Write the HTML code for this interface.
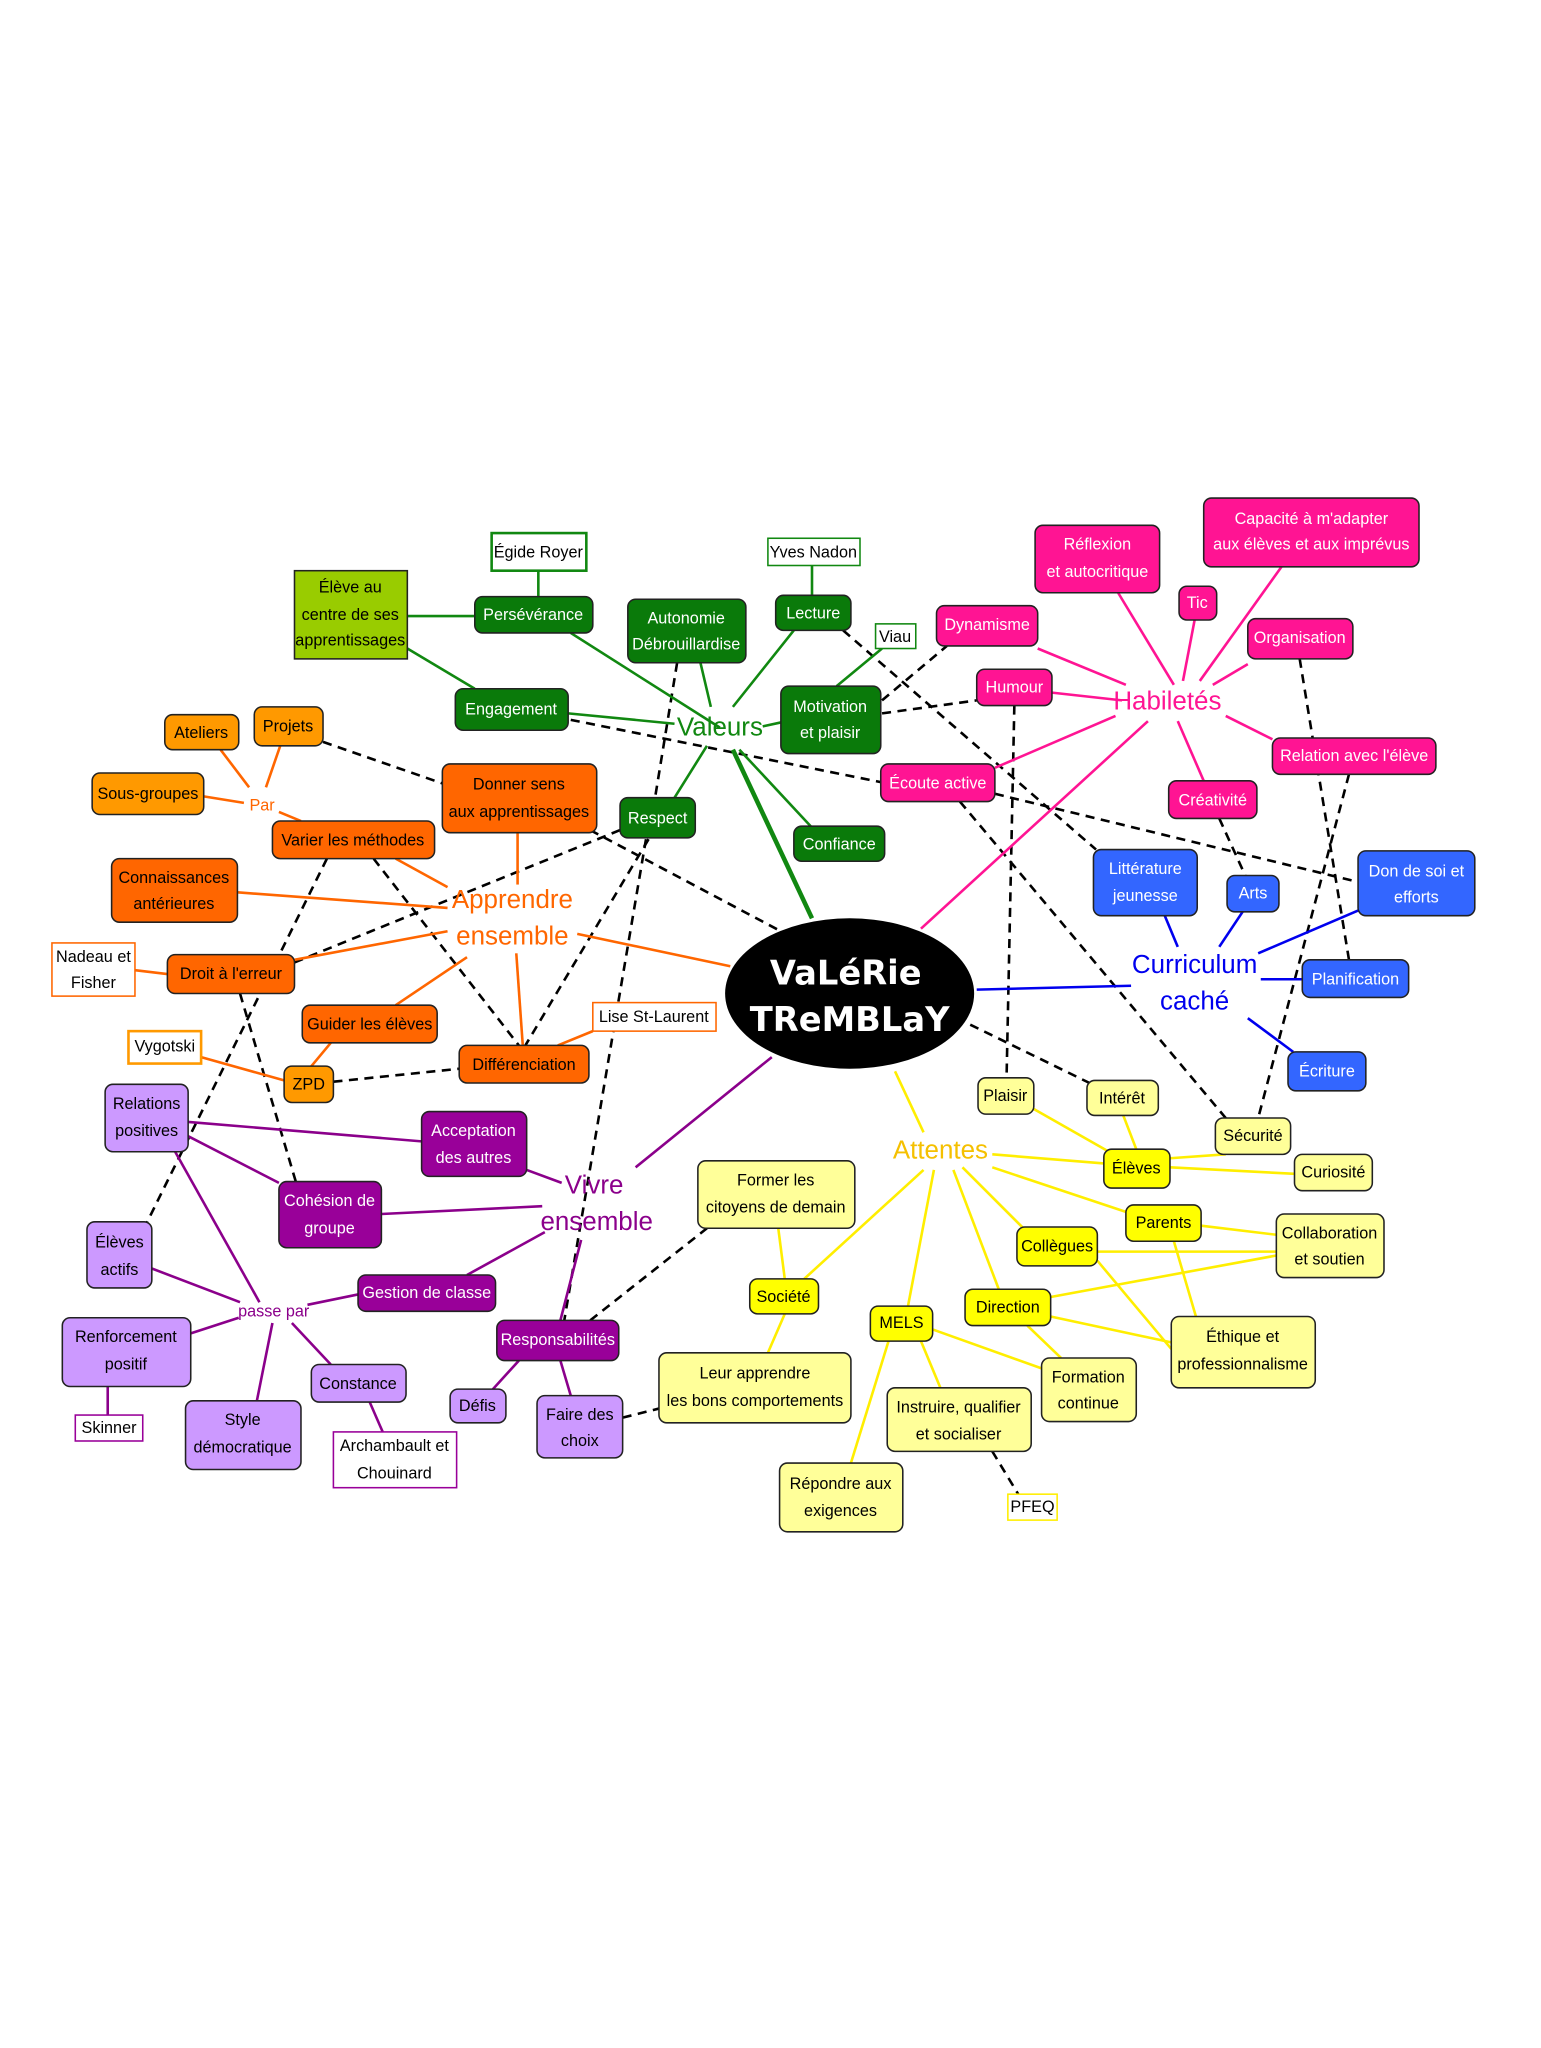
<!DOCTYPE html>
<html><head><meta charset="utf-8"><style>
html,body{margin:0;padding:0;background:#fff;}
svg{display:block}
text{font-family:"Liberation Sans Narrow","Liberation Sans",sans-serif;font-size:12.5px;text-anchor:middle;dominant-baseline:central}
.l{font-size:20px}
.d{stroke:#000;stroke-width:2;stroke-dasharray:7,5;fill:none}
rect{stroke:#222;stroke-width:1.2}
</style></head><body>
<svg width="1541" height="2048" viewBox="0 0 1188 1579" xmlns="http://www.w3.org/2000/svg">
<rect x="0" y="0" width="1188" height="1579" fill="#fff" style="stroke:none"/>
<g class="d">
<line x1="650" y1="486" x2="845" y2="655"/>
<line x1="522" y1="511" x2="505" y2="615"/>
<line x1="478" y1="640" x2="227" y2="742"/>
<line x1="500" y1="647" x2="405" y2="806"/>
<line x1="498" y1="647" x2="435" y2="1018"/>
<line x1="680" y1="540" x2="730" y2="498"/>
<line x1="680" y1="550" x2="753" y2="540"/>
<line x1="440" y1="555" x2="679" y2="603"/>
<line x1="249" y1="572" x2="341" y2="604"/>
<line x1="455" y1="640" x2="602" y2="718"/>
<line x1="288" y1="662" x2="400" y2="806"/>
<line x1="252" y1="662" x2="112" y2="945"/>
<line x1="185" y1="766" x2="228" y2="911"/>
<line x1="257" y1="834" x2="354" y2="824"/>
<line x1="455" y1="1018" x2="545" y2="947"/>
<line x1="480" y1="1093" x2="508" y2="1086"/>
<line x1="740" y1="618" x2="945" y2="862"/>
<line x1="767" y1="612" x2="1047" y2="680"/>
<line x1="782" y1="544" x2="776" y2="831"/>
<line x1="748" y1="790" x2="840" y2="835"/>
<line x1="1002" y1="508" x2="1040" y2="740"/>
<line x1="1040" y1="597" x2="970" y2="862"/>
<line x1="765" y1="1119" x2="785" y2="1152"/>
<line x1="940" y1="631" x2="960" y2="675"/>
</g>
<g stroke="#118811" stroke-width="2" fill="none">
<line x1="555" y1="561" x2="440" y2="488"/><line x1="520" y1="558" x2="438" y2="550"/>
<line x1="548" y1="545" x2="540" y2="511"/><line x1="565" y1="545" x2="612" y2="486"/>
<line x1="588" y1="560" x2="602" y2="557"/><line x1="545" y1="575" x2="520" y2="615"/>
<line x1="570" y1="578" x2="625" y2="637"/><line x1="565" y1="578" x2="626" y2="708" stroke-width="3.5"/>
<line x1="314" y1="475" x2="366" y2="475"/><line x1="314" y1="500" x2="366" y2="531"/>
<line x1="415" y1="460" x2="415" y2="440"/><line x1="626" y1="459" x2="626" y2="436"/>
<line x1="645" y1="529" x2="680" y2="500"/>
</g>
<g stroke="#ff6600" stroke-width="2" fill="none">
<line x1="345" y1="684" x2="305" y2="662"/><line x1="399" y1="682" x2="399" y2="642"/>
<line x1="345" y1="700" x2="183" y2="688"/><line x1="345" y1="718" x2="227" y2="740"/>
<line x1="360" y1="738" x2="305" y2="775"/><line x1="398" y1="735" x2="403" y2="806"/>
<line x1="445" y1="720" x2="563" y2="745"/>
<line x1="192" y1="607" x2="170" y2="578"/><line x1="205" y1="607" x2="216" y2="575"/>
<line x1="188" y1="619" x2="157" y2="614"/><line x1="215" y1="626" x2="232" y2="633"/>
<line x1="104" y1="748" x2="129" y2="751"/><line x1="155" y1="815" x2="219" y2="833"/>
<line x1="255" y1="804" x2="240" y2="822"/><line x1="457" y1="795" x2="430" y2="806"/>
</g>
<g stroke="#ff1493" stroke-width="2" fill="none">
<line x1="868" y1="528" x2="800" y2="500"/><line x1="865" y1="540" x2="811" y2="534"/>
<line x1="860" y1="552" x2="767" y2="592"/><line x1="905" y1="528" x2="862" y2="457"/>
<line x1="912" y1="525" x2="921" y2="478"/><line x1="925" y1="525" x2="988" y2="437"/>
<line x1="935" y1="528" x2="962" y2="512"/><line x1="945" y1="552" x2="981" y2="570"/>
<line x1="908" y1="556" x2="928" y2="602"/><line x1="885" y1="556" x2="710" y2="716"/>
</g>
<g stroke="#0000ee" stroke-width="2" fill="none">
<line x1="908" y1="730" x2="898" y2="706"/><line x1="940" y1="730" x2="958" y2="703"/>
<line x1="970" y1="735" x2="1047" y2="702"/><line x1="972" y1="755" x2="1004" y2="755"/>
<line x1="962" y1="785" x2="997" y2="811"/><line x1="872" y1="760" x2="753" y2="763"/>
</g>
<g stroke="#8b008b" stroke-width="2" fill="none">
<line x1="433" y1="912" x2="406" y2="902"/><line x1="418" y1="930" x2="294" y2="936"/>
<line x1="420" y1="950" x2="360" y2="983"/><line x1="448" y1="956" x2="432" y2="1018"/>
<line x1="490" y1="900" x2="595" y2="815"/>
<line x1="145" y1="865" x2="325" y2="880"/><line x1="145" y1="876" x2="215" y2="912"/>
<line x1="135" y1="888" x2="200" y2="1004"/><line x1="185" y1="1004" x2="117" y2="978"/>
<line x1="237" y1="1006" x2="276" y2="998"/><line x1="184" y1="1016" x2="147" y2="1028"/>
<line x1="210" y1="1020" x2="198" y2="1080"/><line x1="225" y1="1020" x2="255" y2="1052"/>
<line x1="83" y1="1069" x2="83" y2="1091"/><line x1="285" y1="1081" x2="295" y2="1104"/>
<line x1="400" y1="1049" x2="380" y2="1071"/><line x1="432" y1="1049" x2="440" y2="1076"/>
</g>
<g stroke="#ffee00" stroke-width="2" fill="none">
<line x1="712" y1="873" x2="690" y2="826"/><line x1="712" y1="902" x2="620" y2="986"/>
<line x1="720" y1="902" x2="700" y2="1007"/><line x1="735" y1="902" x2="770" y2="994"/>
<line x1="742" y1="900" x2="790" y2="948"/><line x1="765" y1="890" x2="851" y2="897"/>
<line x1="765" y1="900" x2="870" y2="935"/>
<line x1="866" y1="860" x2="876" y2="886"/><line x1="797" y1="855" x2="855" y2="888"/>
<line x1="902" y1="893" x2="945" y2="890"/><line x1="902" y1="900" x2="998" y2="905"/>
<line x1="926" y1="945" x2="984" y2="952"/><line x1="905" y1="957" x2="922" y2="1015"/>
<line x1="846" y1="965" x2="984" y2="965"/><line x1="846" y1="972" x2="903" y2="1040"/>
<line x1="810" y1="1000" x2="984" y2="968"/><line x1="810" y1="1015" x2="903" y2="1035"/>
<line x1="792" y1="1022" x2="818" y2="1047"/><line x1="719" y1="1025" x2="803" y2="1055"/>
<line x1="710" y1="1034" x2="725" y2="1070"/><line x1="685" y1="1034" x2="656" y2="1128"/>
<line x1="605" y1="986" x2="600" y2="947"/><line x1="605" y1="1013" x2="592" y2="1043"/>
</g>
<ellipse cx="655" cy="766" rx="96" ry="58" fill="#000"/>
<text x="652" y="750" style="font-size:26px;font-weight:bold;font-family:'DejaVu Sans','Liberation Sans',sans-serif" fill="#fff">VaLéRie</text>
<text x="655" y="786" style="font-size:26px;font-weight:bold;font-family:'DejaVu Sans','Liberation Sans',sans-serif" fill="#fff">TReMBLaY</text>
<text class="l" x="555" y="561" fill="#118811">Valeurs</text>
<text class="l" x="395" y="694" fill="#ff6600">Apprendre</text><text class="l" x="395" y="722" fill="#ff6600">ensemble</text>
<text class="l" x="900" y="541" fill="#ff1493">Habiletés</text>
<text class="l" x="921" y="744" fill="#0000ee">Curriculum</text><text class="l" x="921" y="772" fill="#0000ee">caché</text>
<text class="l" x="458" y="914" fill="#8b008b">Vivre</text><text class="l" x="460" y="942" fill="#8b008b">ensemble</text>
<text class="l" x="725" y="887" fill="#f5c000">Attentes</text>
<text x="202" y="621" fill="#ff6600">Par</text>
<text x="211" y="1011" fill="#8b008b">passe par</text>
<g fill="#0a7a0a">
<rect x="366" y="460" width="91" height="28" rx="6"/><rect x="351" y="531" width="87" height="32" rx="6"/>
<rect x="484" y="462" width="91" height="49" rx="6"/><rect x="598" y="459" width="58" height="27" rx="6"/>
<rect x="602" y="529" width="77" height="52" rx="6"/><rect x="478" y="615" width="58" height="31" rx="6"/>
<rect x="612" y="637" width="70" height="27" rx="6"/>
</g>
<rect x="227" y="440" width="87" height="68" fill="#99cc00"/>
<g fill="#fff"><rect x="379" y="411" width="73" height="29" style="stroke:#118811;stroke-width:2"/><rect x="592" y="415" width="71" height="21" style="stroke:#118811"/><rect x="675" y="481" width="31" height="19" style="stroke:#118811"/></g>
<g fill="#fff">
<text x="411" y="474">Persévérance</text><text x="394" y="547">Engagement</text>
<text x="529" y="477">Autonomie</text><text x="529" y="497">Débrouillardise</text>
<text x="627" y="473">Lecture</text><text x="640" y="545">Motivation</text><text x="640" y="565">et plaisir</text>
<text x="507" y="631">Respect</text><text x="647" y="651">Confiance</text>
</g>
<g fill="#000">
<text x="270" y="453">Élève au</text><text x="270" y="474">centre de ses</text><text x="270" y="494">apprentissages</text>
<text x="415" y="426">Égide Royer</text><text x="627" y="426">Yves Nadon</text><text x="690" y="491">Viau</text>
</g>
<g fill="#ff9900">
<rect x="127" y="551" width="57" height="27" rx="6"/><rect x="196" y="545" width="53" height="30" rx="6"/>
<rect x="71" y="596" width="86" height="32" rx="6"/><rect x="219" y="822" width="38" height="28" rx="6"/>
</g>
<g fill="#ff6600">
<rect x="210" y="633" width="125" height="29" rx="6"/><rect x="341" y="589" width="119" height="53" rx="6"/>
<rect x="86" y="662" width="97" height="49" rx="6"/><rect x="129" y="736" width="98" height="30" rx="6"/>
<rect x="233" y="775" width="104" height="29" rx="6"/><rect x="354" y="806" width="100" height="29" rx="6"/>
</g>
<g fill="#fff">
<rect x="40" y="727" width="64" height="41" style="stroke:#ff6600"/><rect x="99" y="795" width="56" height="25" style="stroke:#ff9900;stroke-width:2"/>
<rect x="457" y="773" width="95" height="22" style="stroke:#ff6600"/>
</g>
<g fill="#000">
<text x="155" y="565">Ateliers</text><text x="222" y="560">Projets</text><text x="114" y="612">Sous-groupes</text>
<text x="238" y="836">ZPD</text><text x="272" y="648">Varier les méthodes</text>
<text x="400" y="605">Donner sens</text><text x="400" y="626">aux apprentissages</text>
<text x="134" y="677">Connaissances</text><text x="134" y="697">antérieures</text>
<text x="178" y="751">Droit à l'erreur</text><text x="285" y="790">Guider les élèves</text>
<text x="404" y="821">Différenciation</text>
<text x="72" y="738">Nadeau et</text><text x="72" y="758">Fisher</text>
<text x="127" y="807">Vygotski</text><text x="504" y="784">Lise St-Laurent</text>
</g>
<g fill="#cc99ff">
<rect x="81" y="836" width="64" height="52" rx="6"/><rect x="67" y="942" width="50" height="51" rx="6"/>
<rect x="48" y="1016" width="99" height="53" rx="6"/><rect x="143" y="1080" width="89" height="53" rx="6"/>
<rect x="240" y="1052" width="73" height="29" rx="6"/><rect x="347" y="1071" width="43" height="26" rx="6"/>
<rect x="414" y="1076" width="66" height="48" rx="6"/>
</g>
<g fill="#990099">
<rect x="325" y="857" width="81" height="50" rx="6"/><rect x="215" y="911" width="79" height="51" rx="6"/>
<rect x="276" y="983" width="106" height="28" rx="6"/><rect x="383" y="1018" width="94" height="31" rx="6"/>
</g>
<g fill="#fff"><rect x="58" y="1091" width="52" height="20" style="stroke:#990099"/><rect x="257" y="1104" width="95" height="43" style="stroke:#990099"/></g>
<g fill="#000">
<text x="113" y="851">Relations</text><text x="113" y="872">positives</text>
<text x="92" y="958">Élèves</text><text x="92" y="979">actifs</text>
<text x="97" y="1031">Renforcement</text><text x="97" y="1052">positif</text>
<text x="187" y="1095">Style</text><text x="187" y="1116">démocratique</text>
<text x="276" y="1067">Constance</text><text x="368" y="1084">Défis</text>
<text x="447" y="1091">Faire des</text><text x="447" y="1111">choix</text>
<text x="84" y="1101">Skinner</text><text x="304" y="1115">Archambault et</text><text x="304" y="1136">Chouinard</text>
</g>
<g fill="#fff">
<text x="365" y="872">Acceptation</text><text x="365" y="893">des autres</text>
<text x="254" y="926">Cohésion de</text><text x="254" y="947">groupe</text>
<text x="329" y="997">Gestion de classe</text><text x="430" y="1033">Responsabilités</text>
</g>
<g fill="#ffff99">
<rect x="538" y="895" width="121" height="52" rx="6"/><rect x="508" y="1043" width="148" height="54" rx="6"/>
<rect x="684" y="1070" width="111" height="49" rx="6"/><rect x="601" y="1128" width="95" height="53" rx="6"/>
<rect x="754" y="831" width="43" height="28" rx="6"/><rect x="838" y="833" width="55" height="27" rx="6"/>
<rect x="937" y="862" width="58" height="28" rx="6"/><rect x="998" y="890" width="60" height="28" rx="6"/>
<rect x="984" y="936" width="83" height="49" rx="6"/><rect x="803" y="1047" width="73" height="49" rx="6"/>
<rect x="903" y="1015" width="111" height="55" rx="6"/>
</g>
<g fill="#ffff00">
<rect x="578" y="986" width="53" height="27" rx="6"/><rect x="671" y="1007" width="48" height="27" rx="6"/>
<rect x="851" y="886" width="51" height="30" rx="6"/><rect x="868" y="929" width="58" height="28" rx="6"/>
<rect x="784" y="946" width="62" height="30" rx="6"/><rect x="744" y="994" width="66" height="28" rx="6"/>
</g>
<rect x="777" y="1152" width="38" height="20" fill="#fff" style="stroke:#ffee00"/>
<g fill="#000">
<text x="598" y="910">Former les</text><text x="598" y="931">citoyens de demain</text>
<text x="582" y="1059">Leur apprendre</text><text x="582" y="1080">les bons comportements</text>
<text x="739" y="1085">Instruire, qualifier</text><text x="739" y="1106">et socialiser</text>
<text x="648" y="1144">Répondre aux</text><text x="648" y="1165">exigences</text>
<text x="775" y="845">Plaisir</text><text x="865" y="847">Intérêt</text>
<text x="966" y="876">Sécurité</text><text x="1028" y="904">Curiosité</text>
<text x="1025" y="951">Collaboration</text><text x="1025" y="971">et soutien</text>
<text x="839" y="1062">Formation</text><text x="839" y="1082">continue</text>
<text x="958" y="1031">Éthique et</text><text x="958" y="1052">professionnalisme</text>
<text x="604" y="1000">Société</text><text x="695" y="1020">MELS</text>
<text x="876" y="901">Élèves</text><text x="897" y="943">Parents</text>
<text x="815" y="961">Collègues</text><text x="777" y="1008">Direction</text>
<text x="796" y="1162">PFEQ</text>
</g>
<g fill="#ff1493">
<rect x="798" y="405" width="96" height="52" rx="6"/><rect x="928" y="384" width="166" height="53" rx="6"/>
<rect x="909" y="452" width="29" height="26" rx="6"/><rect x="722" y="467" width="78" height="31" rx="6"/>
<rect x="962" y="477" width="81" height="31" rx="6"/><rect x="753" y="516" width="58" height="28" rx="6"/>
<rect x="679" y="589" width="88" height="29" rx="6"/><rect x="981" y="569" width="126" height="28" rx="6"/>
<rect x="901" y="602" width="68" height="29" rx="6"/>
</g>
<g fill="#fff">
<text x="846" y="420">Réflexion</text><text x="846" y="441">et autocritique</text>
<text x="1011" y="400">Capacité à m'adapter</text><text x="1011" y="420">aux élèves et aux imprévus</text>
<text x="923" y="465">Tic</text><text x="761" y="482">Dynamisme</text><text x="1002" y="492">Organisation</text>
<text x="782" y="530">Humour</text><text x="723" y="604">Écoute active</text>
<text x="1044" y="583">Relation avec l'élève</text><text x="935" y="617">Créativité</text>
</g>
<g fill="#3366ff">
<rect x="843" y="655" width="80" height="51" rx="6"/><rect x="946" y="675" width="40" height="28" rx="6"/>
<rect x="1047" y="656" width="90" height="50" rx="6"/><rect x="1004" y="740" width="82" height="29" rx="6"/>
<rect x="993" y="811" width="60" height="30" rx="6"/>
</g>
<g fill="#fff">
<text x="883" y="670">Littérature</text><text x="883" y="691">jeunesse</text>
<text x="966" y="689">Arts</text><text x="1092" y="672">Don de soi et</text><text x="1092" y="692">efforts</text>
<text x="1045" y="755">Planification</text><text x="1023" y="826">Écriture</text>
</g>
</svg>
</body></html>
